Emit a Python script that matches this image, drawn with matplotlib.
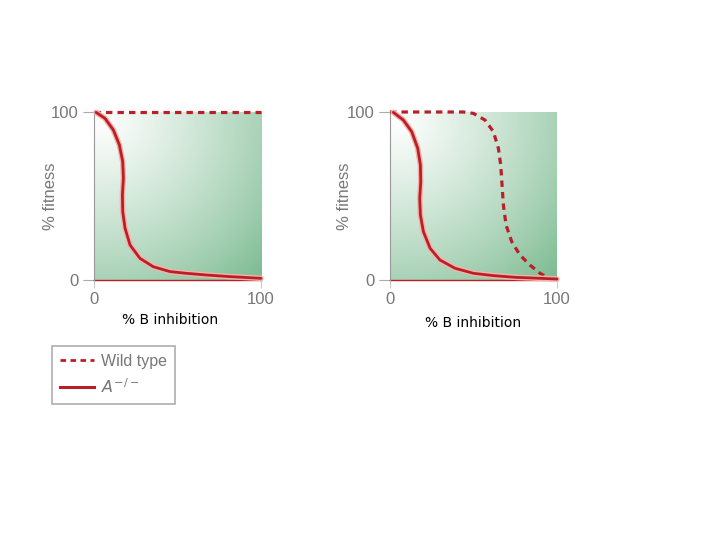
import numpy as np
import matplotlib.pyplot as plt
import matplotlib.patheffects as pe
from matplotlib.lines import Line2D

# --- data (x = % B inhibition, y = % fitness) ---
left_mut_x = [1.2, 6.6, 11.6, 15.2, 17.2, 17.6, 17.0, 17.2, 18.6, 21.6, 27.5, 35.5, 45.5, 55, 67, 80, 100]
left_mut_y = [99.8, 96.2, 89.3, 80.4, 70.4, 60.5, 50.6, 40.7, 30.8, 20.8, 12.9, 7.9, 5.0, 4.0, 3.0, 2.1, 1.0]
left_wt_x = [0, 100]
left_wt_y = [100, 100]

right_mut_x = [2.0, 8.0, 13.0, 16.6, 18.2, 18.4, 17.8, 18.2, 20.0, 24.0, 29.9, 38.9, 49.9, 62, 75, 100]
right_mut_y = [99.8, 95.2, 88.3, 78.4, 68.5, 58.5, 48.6, 38.7, 28.8, 18.9, 11.9, 7.0, 4.0, 2.6, 1.6, 0.6]
right_wt_x = [0, 20, 40, 44, 49.9, 56.9, 61.9, 64.9, 66.3, 67.1, 67.9, 69.5, 72.9, 77.8, 83.8, 89.8, 94.8, 100]
right_wt_y = [100, 100, 100, 100, 99.2, 95.2, 88.3, 78.4, 68.5, 56.5, 44.6, 32.7, 22.8, 14.9, 8.9, 4.0, 1.4, 0.6]

RED = '#b91f27'
GRAY = '#777777'

plt.rcParams['font.family'] = ['Liberation Sans', 'DejaVu Sans']
fig = plt.figure(figsize=(7.2, 5.4), dpi=100)

# green background: white glow at top-left, greener towards bottom-right
gx, gy = np.meshgrid(np.linspace(0, 1, 200), np.linspace(0, 1, 200))
d = np.hypot(gx - 0.05, gy - 0.05)
t = np.clip(0.65 * d + 0.07 * d ** 3, 0, 1)
white = np.array([1.0, 1.0, 1.0])
green = np.array([0.50, 0.74, 0.58])
grad = white[None, None, :] * (1 - t[..., None]) + green[None, None, :] * t[..., None]

panels = [
    (94, left_mut_x, left_mut_y, left_wt_x, left_wt_y, 170, 320, 58),
    (390, right_mut_x, right_mut_y, right_wt_x, right_wt_y, 473, 323, 352),
]

halo = [pe.Stroke(linewidth=4.0, foreground='#f3b3aa'), pe.Normal()]
dash = (0, (2.0, 1.6))

for px, mx, my, wx, wy, lx, ly, yl in panels:
    ax = fig.add_axes([px / 720, 1 - 280 / 540, 167 / 720, 168 / 540])
    ax.imshow(grad, extent=[0, 100, 0, 100], origin='upper', aspect='auto', zorder=0)
    ax.set_xlim(0, 100)
    ax.set_ylim(0, 100)
    ax.plot([0, 100], [0, 0], color=RED, lw=1.0, zorder=2, clip_on=False)
    ax.plot(wx, wy, color=RED, lw=2.3, ls=dash, zorder=3, clip_on=False,
            solid_joinstyle='round')
    ax.plot(mx, my, color=RED, lw=2.0, zorder=4, path_effects=halo, clip_on=False,
            solid_joinstyle='round', solid_capstyle='round')
    for s in ['top', 'right', 'bottom']:
        ax.spines[s].set_visible(False)
    ax.spines['left'].set_color('#999999')
    ax.set_xticks([0, 100])
    ax.set_yticks([0, 100])
    ax.set_xticklabels(['0', '100'])
    ax.set_yticklabels(['0', '100'])
    ax.tick_params(axis='y', length=8, color='#aaaaaa', labelcolor=GRAY, labelsize=12, pad=3)
    ax.tick_params(axis='x', length=6, color='#cccccc', labelcolor=GRAY, labelsize=12, pad=3)
    ax.set_ylabel('% fitness', color=GRAY, fontsize=12)
    ax.yaxis.set_label_coords((yl - px) / 167, 0.5)
    fig.text(lx / 720, 1 - ly / 540, '% B inhibition', ha='center', va='center',
             fontsize=10, color='black', family=['DejaVu Sans'])

handles = [
    Line2D([], [], color=RED, lw=2.0, ls=dash),
    Line2D([], [], color=RED, lw=2.2),
]
leg = fig.legend(handles, ['Wild type', r'$A^{-/-}$'],
                 loc='upper left', bbox_to_anchor=(52 / 720, 1 - 346 / 540),
                 borderaxespad=0, frameon=True, fancybox=False, fontsize=11.5,
                 handlelength=2.1, borderpad=0.5, labelspacing=0.5, handletextpad=0.45)
leg.get_frame().set_edgecolor('#999999')
leg.get_frame().set_linewidth(1.2)
for txt in leg.get_texts():
    txt.set_color(GRAY)

fig.savefig('out.png', dpi=100)
